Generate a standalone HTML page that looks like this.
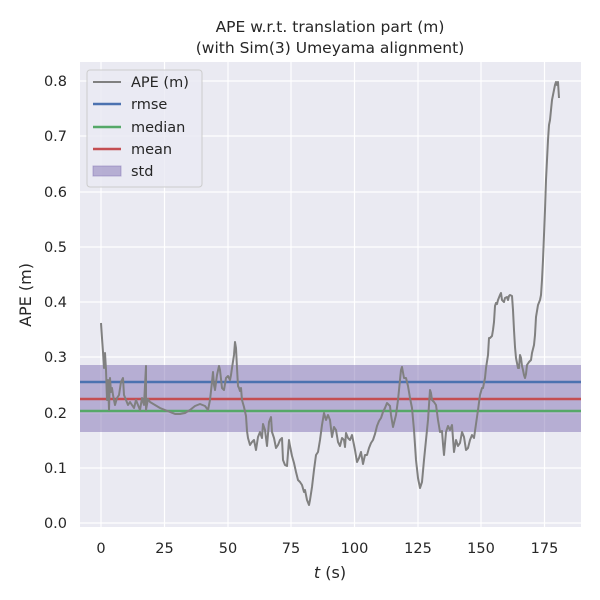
<!DOCTYPE html>
<html><head><style>body{margin:0;background:#fff}svg{display:block}text{font-family:"DejaVu Sans","Liberation Sans",sans-serif;fill:#262626}</style></head>
<body>
<svg width="600" height="600" xmlns="http://www.w3.org/2000/svg">
<rect x="80" y="62" width="501" height="465" fill="#eaeaf2"/>
<g stroke="#fff" stroke-width="1.2">
<line x1="101" y1="62" x2="101" y2="527"/><line x1="164.5" y1="62" x2="164.5" y2="527"/><line x1="228" y1="62" x2="228" y2="527"/><line x1="291" y1="62" x2="291" y2="527"/><line x1="354.5" y1="62" x2="354.5" y2="527"/><line x1="418" y1="62" x2="418" y2="527"/><line x1="481" y1="62" x2="481" y2="527"/><line x1="544.5" y1="62" x2="544.5" y2="527"/>
<line x1="80" y1="523" x2="581" y2="523"/><line x1="80" y1="468" x2="581" y2="468"/><line x1="80" y1="413" x2="581" y2="413"/><line x1="80" y1="357" x2="581" y2="357"/><line x1="80" y1="302" x2="581" y2="302"/><line x1="80" y1="247" x2="581" y2="247"/><line x1="80" y1="192" x2="581" y2="192"/><line x1="80" y1="136" x2="581" y2="136"/><line x1="80" y1="81" x2="581" y2="81"/>
</g>
<rect x="80" y="365" width="501" height="67" fill="#8172b3" fill-opacity="0.5"/>
<line x1="80" y1="382" x2="581" y2="382" stroke="#4c72b0" stroke-width="2.5"/>
<line x1="80" y1="399" x2="581" y2="399" stroke="#c44e52" stroke-width="2.5"/>
<line x1="80" y1="411" x2="581" y2="411" stroke="#55a868" stroke-width="2.5"/>
<polyline fill="none" stroke="#808080" stroke-width="2" stroke-linejoin="round" points="101,323 102,338 103,352 104,368 105,353 106,370 107,400 108,380 109,410 110,378 111,392 112,388 113,395 115,405 117,398 119,395 121,382 123,378 124,395 126,400 128,405 130,402 132,405 134,408 136,400 138,405 140,410 142,398 144,405 146,366 146,410 148,399 150,402 155,405 160,408 165,410 170,412 175,414 180,414 185,413 190,410 195,406 200,404 205,406 208,410 210,400 212,382 213,372 214,385 215,390 217,375 219,366 220,370 222,388 224,390 226,378 228,376 230,380 231,375 232,368 234,355 235,342 236,348 237,368 238,386 239,388 240,391 241,388 242,400 244,407 246,416 247,431 248,438 250,445 252,442 254,440 256,450 258,437 260,432 262,438 263,424 265,430 267,446 269,422 271,417 272,432 274,438 276,448 278,445 280,440 282,438 283,460 285,465 287,466 289,440 290,446 292,456 294,463 296,472 298,480 300,482 302,485 304,492 305,490 307,500 309,505 310,500 312,487 314,470 316,455 318,452 320,440 322,425 324,413 326,420 328,415 330,420 332,437 334,427 336,430 338,442 340,446 342,438 344,440 345,447 346,433 348,438 350,440 352,435 355,450 357,462 359,458 361,452 363,464 365,455 367,455 369,448 371,443 373,440 375,434 377,426 379,421 381,418 383,412 385,408 387,403 388,404 390,406 391,415 393,427 396,415 398,400 400,380 401,370 402,367 404,378 406,378 408,386 410,398 412,408 414,430 416,460 418,478 420,488 422,482 424,460 426,440 428,420 429,405 430,390 431,393 432,400 434,402 436,405 438,420 440,432 442,431 443,444 444,455 446,432 448,426 450,430 452,425 454,452 456,440 458,446 460,443 462,432 464,437 466,450 468,448 470,440 472,435 474,438 476,424 478,410 480,395 482,388 483,388 485,378 486,368 488,355 489,338 490,338 492,336 493,330 494,322 495,306 496,303 497,304 498,300 500,295 501,293 502,300 504,302 505,298 507,297 508,300 509,296 510,295 512,296 513,310 514,330 515,347 516,358 518,368 519,368 520,355 521,358 522,366 523,370 524,375 525,378 526,374 527,365 529,362 531,360 532,353 534,345 535,335 536,317 538,305 540,300 541,295 542,280 543,260 544,235 545,210 546,180 547,160 548,140 549,125 550,120 551,110 552,100 553,95 554,90 555,85 556,82 557,85 558,82 559,98"/>
<g font-size="14.5" text-anchor="middle">
<text x="101" y="553">0</text><text x="164.5" y="553">25</text><text x="228" y="553">50</text><text x="291" y="553">75</text><text x="354.5" y="553">100</text><text x="418" y="553">125</text><text x="481" y="553">150</text><text x="544.5" y="553">175</text>
</g>
<g font-size="14.5" text-anchor="end">
<text x="67" y="528">0.0</text><text x="67" y="473">0.1</text><text x="67" y="418">0.2</text><text x="67" y="362">0.3</text><text x="67" y="307">0.4</text><text x="67" y="252">0.5</text><text x="67" y="197">0.6</text><text x="67" y="141">0.7</text><text x="67" y="86">0.8</text>
</g>
<text x="330" y="578" font-size="16" text-anchor="middle"><tspan font-style="italic">t</tspan> (s)</text>
<text transform="translate(31,295) rotate(-90)" font-size="16" text-anchor="middle">APE (m)</text>
<text x="330" y="32" font-size="15.5" text-anchor="middle">APE w.r.t. translation part (m)</text>
<text x="330" y="53" font-size="15.5" text-anchor="middle">(with Sim(3) Umeyama alignment)</text>
<rect x="87" y="70" width="115" height="117" rx="3" fill="#eaeaf2" fill-opacity="0.8" stroke="#ccc"/>
<line x1="93" y1="82" x2="121" y2="82" stroke="#808080" stroke-width="2"/>
<line x1="93" y1="104" x2="121" y2="104" stroke="#4c72b0" stroke-width="2.5"/>
<line x1="93" y1="127" x2="121" y2="127" stroke="#55a868" stroke-width="2.5"/>
<line x1="93" y1="149" x2="121" y2="149" stroke="#c44e52" stroke-width="2.5"/>
<rect x="93" y="166" width="28" height="10" fill="#8172b3" fill-opacity="0.5" stroke="#8172b3" stroke-opacity="0.5"/>
<g font-size="14.5"><text x="131" y="87">APE (m)</text><text x="131" y="109">rmse</text><text x="131" y="132">median</text><text x="131" y="154">mean</text><text x="131" y="176">std</text></g>
</svg>
</body></html>
